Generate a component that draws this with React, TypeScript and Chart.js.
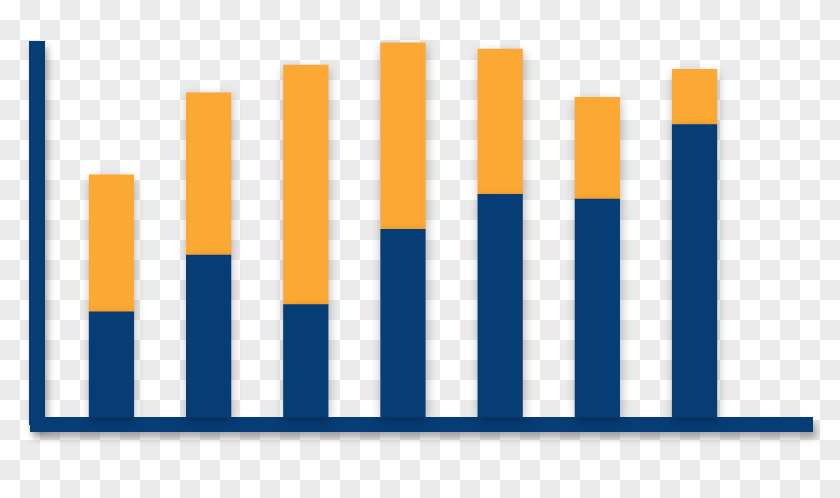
import React, { useEffect, useRef } from 'react';
import { Chart, registerables } from 'chart.js';

Chart.register(...registerables);

// Categories (unlabelled in the picture) and stacked series values
const categories = ['1', '2', '3', '4', '5', '6', '7'];
const lowerValues = [28.6, 44.0, 30.6, 51.0, 60.5, 59.2, 79.5];
const upperValues = [37.2, 44.1, 65.0, 50.7, 39.5, 27.7, 15.0];

const NAVY = '#063d74';
const ORANGE = '#fca834';

const shadowPlugin = {
  id: 'softShadows',
  beforeDraw(chart: any) {
    const c = chart.ctx;
    c.save();
    c.shadowColor = 'rgba(0,0,0,0.32)';
    c.shadowBlur = 7;
    c.shadowOffsetX = 3;
    c.shadowOffsetY = 6;
  },
  beforeDatasetsDraw(chart: any) {
    const c = chart.ctx;
    c.shadowColor = 'rgba(0,0,0,0.28)';
    c.shadowBlur = 10;
    c.shadowOffsetX = 1;
    c.shadowOffsetY = 4;
  },
  afterDraw(chart: any) {
    chart.ctx.restore();
  },
};

export default function App() {
  const ref = useRef<HTMLCanvasElement | null>(null);

  useEffect(() => {
    if (!ref.current) return;
    const chart = new Chart(ref.current, {
      type: 'bar',
      data: {
        labels: categories,
        datasets: [
          {
            label: 'lower',
            data: lowerValues.map((v, i) => ({ x: i + 1, y: v })),
            backgroundColor: NAVY,
            borderWidth: 0,
            barThickness: 44.6,
            clip: false as any,
          },
          {
            label: 'upper',
            data: upperValues.map((v, i) => ({ x: i + 1, y: v })),
            backgroundColor: ORANGE,
            borderWidth: 0,
            barThickness: 44.6,
            clip: false as any,
          },
        ],
      } as any,
      options: {
        responsive: false,
        animation: false,
        events: [],
        layout: {
          padding: { left: 37, top: 49, right: 27.5, bottom: 73.5 },
        },
        plugins: {
          legend: { display: false },
          tooltip: { enabled: false },
        },
        scales: {
          y: {
            type: 'linear',
            stacked: true,
            min: -2,
            max: 100,
            grid: { display: false, drawTicks: false },
            ticks: { display: false },
            border: { display: true, width: 16, color: NAVY },
          },
          x: {
            type: 'linear',
            stacked: true,
            offset: false,
            min: 0.234,
            max: 8.214,
            grid: { display: false, drawTicks: false, offset: false },
            ticks: { display: false },
            border: { display: true, width: 15, color: NAVY },
          },
        },
      } as any,
      plugins: [shadowPlugin],
    });
    return () => chart.destroy();
  }, []);

  return (
    <div
      style={{
        position: 'fixed',
        left: 0,
        top: 0,
        width: 840,
        height: 498,
        backgroundImage:
          'conic-gradient(#ebebeb 25%, #ffffff 0 50%, #ebebeb 0 75%, #ffffff 0)',
        backgroundSize: '40px 40px',
        backgroundPosition: '0 0',
      }}
    >
      <canvas ref={ref} width={840} height={498} style={{ display: 'block' }} />
    </div>
  );
}
